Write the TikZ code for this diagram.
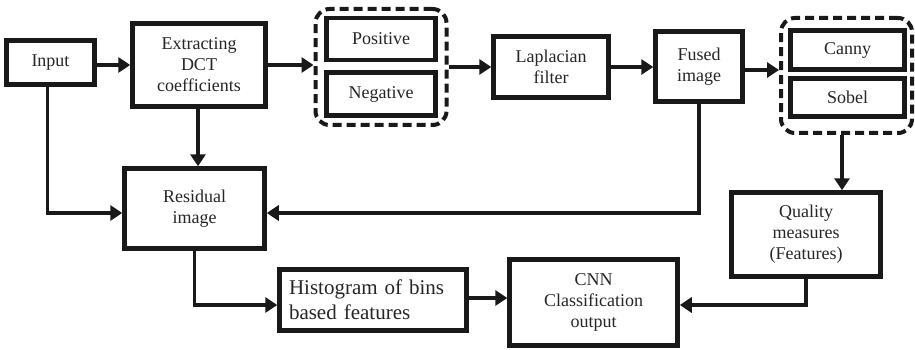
\documentclass[tikz,border=0pt]{standalone}
\usepackage{fontspec}
\setmainfont{Liberation Serif}
\usetikzlibrary{arrows.meta,calc}
\tikzset{
  box/.style={draw=black!90, line width=4.5pt, fill=white, inner sep=0pt, align=center,
    font=\fontsize{18}{21}\selectfont, text=black!85},
  grp/.style={draw=black!90, line width=4pt, dash pattern=on 9pt off 5pt, rounded corners=14pt, inner sep=0pt},
  arr/.style={draw=black!90, line width=3.8pt, -{Triangle[length=12pt,width=15pt]}},
}
\begin{document}
\begin{tikzpicture}[x=1pt,y=-1pt]
\useasboundingbox (0,0) rectangle (915,350);
\node[box, minimum width=88pt, minimum height=44pt] (inp) at (50.5,62.5) {Input};
\node[box, minimum width=133pt, minimum height=83pt] (dct) at (199,65) {Extracting\\DCT\\coefficients};
\node[grp, minimum width=131pt, minimum height=116pt] (g1) at (381,67) {};
\node[box, minimum width=109pt, minimum height=42pt] (pos) at (381,39) {Positive};
\node[box, minimum width=109pt, minimum height=43pt] (neg) at (381,94) {Negative};
\node[box, minimum width=115pt, minimum height=61pt] (lap) at (551,67) {Laplacian\\filter};
\node[box, minimum width=87pt, minimum height=70pt] (fus) at (699,66.5) {Fused\\image};
\node[grp, minimum width=131pt, minimum height=115pt] (g2) at (846.5,75.5) {};
\node[box, minimum width=114pt, minimum height=39pt] (can) at (847.5,50) {Canny};
\node[box, minimum width=114pt, minimum height=38pt] (sob) at (847.5,97.5) {Sobel};
\node[box, minimum width=140pt, minimum height=80pt] (res) at (194.5,208.5) {Residual\\image};
\node[box, minimum width=149pt, minimum height=84pt] (qua) at (806,234.5) {Quality\\measures\\(Features)};
\node[box, minimum width=187pt, minimum height=61pt, align=left, text width=168pt,
  font=\fontsize{21}{25}\selectfont] (his) at (373,300) {Histogram of bins\\based features};
\node[box, minimum width=168pt, minimum height=86pt] (cnn) at (593.5,302.5) {CNN\\Classification\\output};

\draw[arr] (inp.east |- dct.west) -- (dct.west);
\draw[arr] (dct.east) -- (g1.west |- dct.east);
\draw[arr] (g1.east |- lap.west) -- (lap.west);
\draw[arr] (lap.east) -- (fus.west |- lap.east);
\coordinate (f2) at ($(fus.east)+(0,3.5)$);
\draw[arr] (f2) -- (g2.west |- f2);
\coordinate (d1) at ($(dct.south)+(-1,0)$);
\draw[arr] (d1) -- (res.north -| d1);
\coordinate (i1) at ($(inp.south)+(-3,0)$);
\coordinate (r1) at ($(res.west)+(0,4.5)$);
\draw[arr] (i1) |- (r1);
\coordinate (r2) at ($(res.east)+(0,4.5)$);
\draw[arr] (fus.south) |- (r2);
\coordinate (g2s) at ($(g2.south)+(-4.5,0)$);
\draw[arr] (g2s) -- (qua.north -| g2s);
\coordinate (c1) at ($(cnn.east)+(0,2.5)$);
\draw[arr] (qua.south) |- (c1);
\coordinate (h1) at ($(his.west)+(0,5)$);
\draw[arr] (res.south) |- (h1);
\coordinate (h2) at ($(his.east)+(0,-2)$);
\draw[arr] (h2) -- (cnn.west |- h2);
\end{tikzpicture}
\end{document}
